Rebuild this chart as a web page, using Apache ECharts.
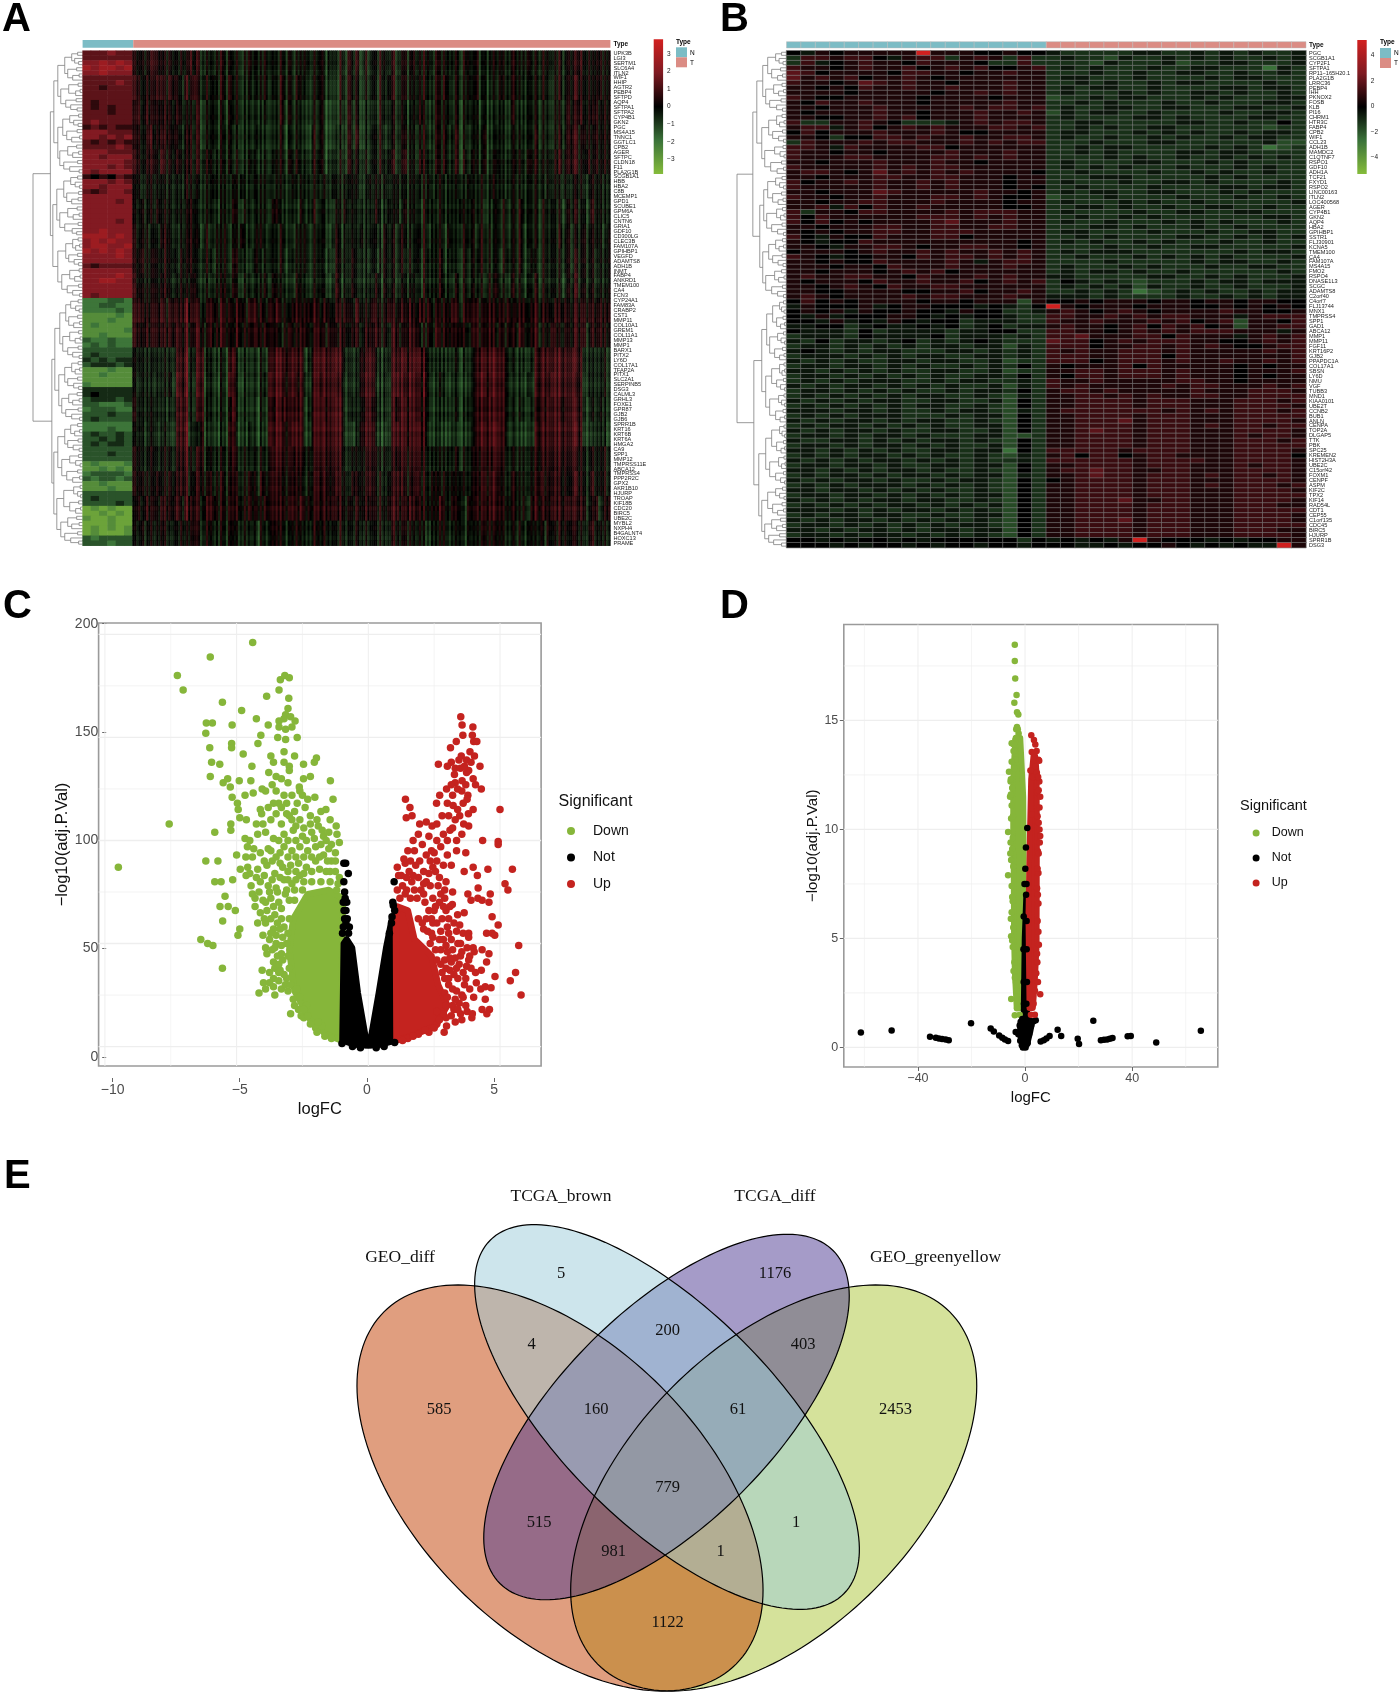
<!DOCTYPE html>
<html><head><meta charset="utf-8">
<style>html,body{margin:0;padding:0;background:#fff}#c{width:1400px;height:1693px}</style>
<script src="https://cdn.jsdelivr.net/npm/echarts@6/dist/echarts.min.js"></script></head>
<body><div id="c"></div>
<script>
// ---------- heatmap A ----------
const rowsA=['UPK3B','LGI3','SERTM1','SLC6A4','ITLN2','WIF1','HHIP','AGTR2','PEBP4','SFTPD','AQP4','SFTPA1','SFTPA2','CYP4B1','GKN2','PGC','MS4A15','TNNC1','GGTLC1','CPB2','AGER','SFTPC','CLDN18','F11','PLA2G1B','SCGB1A1','HBB','HBA2','C8B','MCEMP1','GPD1','SCUBE1','GPM6A','CLIC5','CNTN6','GRIA1','GDF10','CD300LG','CLEC3B','FAM107A','GPIHBP1','VEGFD','ADAMTS8','ADH1B','INMT','FABP4','ANKRD1','TMEM100','CA4','FCN3','CYP24A1','FAM83A','CRABP2','CST1','MMP11','COL10A1','GREM1','COL11A1','MMP13','MMP1','BARX1','PITX2','LY6D','COL17A1','TFAP2A','PITX1','SLC2A1','SERPINB5','DSG3','CALML3','GRHL3','FOXE1','GPR87','GJB2','GJB6','SPRR1B','KRT16','KRT6B','KRT6A','HMGA2','CA9','SPP1','MMP12','TMPRSS11E','ABCA12','TMPRSS4','PPP2R2C','GPX2','AKR1B10','HJURP','TROAP','KIF18B','CDC20','BIRC5','UBE2C','MYBL2','NXPH4','B4GALNT4','HOXC13','PRAME'];
const levelsA=[-3.2,-2.6,-2,-1.4,-.7,0,.7,1.4,2,2.6];
const tumorLevelsA=[-1.5,-1.2,-1,-.7,-.35,0,.4,.75,1.05,1.35];
const normalA=['777877','777777','889898','989989','889888','777777','777787','776777','777777','777777','767777','767677','777677','777777','787777','676766','888777','887878','767676','777787','888777','887888','888887','888787','878888','656576','888787','887888','767887','888888','888878','888888','888888','888888','888878','888888','889888','999898','898988','899889','989898','888898','888888','767777','888888','888898','889988','888888','888888','878888',
'222332','223322','222232','111121','111211','121111','111112','112111','322322','232322','333333','343333','434344','344434','111211','112111','111111','211111','444444','454444','344434','332223','233322','333433','343333','222222','222322','343343','334343','343443','333333','333433','333333','121112','112121','233332','323323','112111','111211','333333','343333','333343','010100','001010','100100','000100','010101','010001','323333','333233'];
const tumorBandsA=[
"6565676556 5464756454 4564645356 4546453646 3546454635 4363746363 5465463564 6456546465 4546546354 5465465456 4546545646 5675645656",
"7656567657 6546575464 5464745345 3546353746 3645354634 3263745353 5364563564 5456446475 3545546353 4365465445 4546435646 5765645656",
"6757566566 5654546354 5353645344 3435343736 3534353623 3253735343 4364453553 5465346465 3535445253 3354364345 4535435547 5675656566",
"6656756666 6545646354 5354634344 3534343625 3534263623 3343736343 5463453564 5356346474 4635345363 3454354445 4635435647 6756646566",
"7656665756 5655646465 4454635345 4435354636 4635364624 4353745453 5464563574 5366446474 4636355363 4554455546 5645546757 6755746566",
"5545545445 4445544454 5445454544 4545444544 5445454454 5445554445 4545445454 5445544545 4454544544 5454454445 4544545454 4554454545",
"5464546455 4454653454 4345464354 3545365444 4354463544 3546453544 4634545364 5436453545 4365454534 3546354645 4536454536 4645364545",
"6465354565 4354654363 4546354644 3654453644 3546354543 4635453644 5436453654 4546354536 4356453645 3546354635 4536454646 3546454536",
"6575465465 5364653464 3546365443 4635453634 4546354534 3645463543 5346453645 4536454635 4346354645 3536454634 5436454546 3646453546",
"7565465565 4464563453 4556464354 3546364544 3645354543 4735463544 4636453554 5436454645 3546354536 4645364535 4636454536 4746453546",
"7776576757 7678676567 6576757657 7665767565 6757676576 5767657665 7656765767 6576756576 7657667567 6576756675 6757657676 5767665767",
"7667576667 6767567657 5676657566 6757665467 5667567657 6576566576 6756476567 7645657576 6576467567 6475665765 6746576566 5767465766",
"5454344344 4778447844 3343783343 3343778877 8773478888 8884433778 7434477887 8877443344 3434347788 8787443343 4778878887 8774433454",
"5354334345 3878437834 3243873243 3344878867 8674378788 8773433788 7334378878 8768433443 3333347887 8787433334 3778788887 8673433454",
"6454444334 4787436844 3343683343 3243768787 7773478878 8883443678 6434376887 8767433344 3434447778 7787443443 4677878777 8774343544",
"5453443343 3788343733 3233772334 3233878867 8873378888 8883323788 7323378887 8877333233 3233347888 8887333233 3778878887 8873323443",
"6554554455 4677546745 4454674454 4454677767 6765567777 7774454667 6545466776 7766454455 4545456677 6776454454 5667767776 7665454565",
"6565456456 5676456656 4564665456 5465676656 6654567676 6765465667 6454567765 6756465465 5465456676 7665465454 5676667665 6765464565",
"5657565666 6757666577 6565766567 5657676767 7676667677 7675656676 6565677677 7666565765 6563657677 7676565463 6767677777 7676456367",
"5464545554 5464565465 4454654454 4354565645 5645465565 5464545554 5454465565 5454354564 4463545566 5565454545 5464655665 6554564555"];
const fineColumnsA="5646352748 5463758264 3574625937 4586251746 5372846153 6482537164 4751836245 5384726154 6372845163 2846357152 5473816254 6385241736 4572816354 5836274518 3645728163 5274836152 6485317264 5736284517 3864527163 4752836154 6384257163 5472831645 3685274516 5847362714";
const rowShadeA="5565465556 4556545654 5465556455 5465545565 5564553565 3555646555 4565565456 5546556455 6555465565 5465556545 7665566557 6546655456 5565465546 4556553456 5465646555 5646555465 5465556456 5546546565 6556455646 5565465546";
const typeCountsA=[57,537];
const colorTicksA=[3,2,1,0,-1,-2,-3];
// ---------- heatmap B ----------
const rowsB=['PGC','SCGB1A1','CYP2F1','SFTPA1','RP11−165H20.1','PLA2G1B','LRRC36','PEBP4','IHH','PKNOX2','FOSB','KLB','PI16','CHRM1','HTR3C','FABP4','CPB2','WIF1','CCL23','ADH1B','MAMDC2','C1QTNF7','RSPO1','GDF10','ADH1A','TCF21','FXYD1','RSPO2','LINC00163','ITLN2','LOC400568','AGER','CYP4B1','GKN2','AQP4','HBA2','GPIHBP1','SSTR1','FLJ30901','KCNA5','TMEM100','CA4','FAM107A','MS4A15','FMO2','RSPO4','DNASE1L3','SCGC','ADAMTS8','C2orf40','C4orf7','FLJ13744','MNX1','TMPRSS4','SPP1','GAD1','ABCA12','MMP1','MMP11','FGF11','KRT16P2','GJB2','PPAPDC1A','COL17A1','SBSN','LY6D','NMU','VGF','TUBB3','MND1','KIAA0101','UBE2T','CCNB2','BUB1','ANLN','CENPA','TOP2A','DLGAP5','TTK','PBK','SPC25','KREMEN2','HIST2H3A','UBE2C','C15orf42','FOXM1','CENPF','ASPM','KIF2C','TPX2','KIF14','RAD54L','CDT1','CEP55','C1orf135','CDC45','BIRC5','HJURP','SPRR1B','DSG3'];
const levelsB=[-3.6,-2.6,-1.7,-1.1,-.5,0,.6,1.2,1.9,5.2];
const matrixB=[
"546566666966655655 433333443343434334","377677546773676373 343324334343433434","374567665766653373 333243334233443334","766567667567675567 343433343344333143",
"875666657766566766 333433433443343343","867675667656666666 344333433334344333","766568767665666766 334343343443333433","665657667667666766 343443343333443443",
"666656666656676766 343334343344343343","765566666566665666 233434433343433344","657667666566666766 334343334334333443","665666766666767767 343344334433344334",
"656666766566676676 243443343333433443","665566767566676666 343333443433334433","733667653334676776 334433333443343353","677467567676667767 334343344333333233",
"575666766676556666 344333434343343443","665355776766766776 343343343433434433","376667677666767677 333433344333333422","776476666775666666 334344333334343123",
"766566566667666766 334343333443443333","766677666677676766 333343433433434343","665666766676656666 343333443334343333","766666767677666666 343434333433343433",
"677656867676766665 334333343343433433","665666776677666566 333444333334343333","756676766767666566 343334334434333343","766666766767666565 334333343333443443",
"665666876666676656 343443344333434333","766566766677676556 233343333433343343","665667766676666566 343334343343333334","667475766766666556 334434334334433433",
"736657766667677766 343333433443344333","757666666777676766 334334343333333443","757565666678666766 343343334343433343","665666776677667766 333443433343343333",
"656566776677766666 344333343334334433","754655766677566666 334343333443343434","654557666666666656 343433434333433433","665466776566776656 333343343344333334",
"566656766767667676 343444333333343443","765455665767767676 334333434343433334","665655766667646776 333343333343443343","666566576667666766 343334343334334433",
"665666567675666666 343443433433333343","676677665766676766 443333344334343334","656665766766756767 354343233343443444","665676576677666666 343434243343343334",
"665566665566756676 334343123434334344","676566667677666766 444343333433434344",
"575656666566566626 556566656656656655","465556456655545435 965666566655656565","565646556554655334 676567656666766556","546455566545455433 776676767766646777",
"554645465455344433 766766676756726657","445534544545345344 676656757675626677","544435344443445533 776656767677766646","344435444453444343 778666775766646767",
"435344345343454333 877567677766556767","344343434344344243 777566776767655677","454343443334434343 767667776766666767","344434343443344343 777667775766666667",
"434343344344334233 777567776766766767","344344343433434353 656667576666656566","443434343344334233 667767776766656667","344343434343344353 657767776766656566",
"343434443343443343 766766666776656666","434344343434334243 767666667677666767","344343434334344353 677676666676667776","343434343443343243 667767676677667777",
"434343443344334253 667777677766677767","343434343443343253 667777677766677776","444344343343443243 677777776767677767","343434443334344253 667777677766677777",
"434344343443343253 667778677766677776","343443434343344253 667777677767677677","434344343344334253 667877677766677776","344343443433344223 667777677766676776",
"433443434344343253 667777677766677767","344343443434334253 667777677766677777","443434343344344153 777776777766677776","343434434343343243 675775677666677775",
"434343443434343343 777777677776677776","344344343344344253 667777677766676776","443434344343343253 677877667766677776","343443434434344243 667877677767677676",
"434344343343443253 567777677766677776","343434443434343253 667777677767677767","443443434343343253 667777677766677776","344344343434344253 667777677766677777",
"434343443443343253 667778667766677776","343434344343434253 667777677766677766","444343434434343253 667777677766677777","343443443343344253 667777677766677776",
"434344343434343253 667778677766677776","344343434343443253 667777677766677777","443434434344344253 667777677766677766","344343443434343253 667777677766677776",
"554545545455555535 454546965554545566","555454554545545545 554454556545454496"];
const typeStringB="NNNNNNNNNNNNNNNNNNTTTTTTTTTTTTTTTTTT";
const colorTicksB=[4,2,0,-2,-4];
// ---------- dendrograms ----------
const treeA=[100,[65,[58,[50,[36,[22,[10,0,0],[16,0,[8,0,0]]],[30,[12,0,0],[20,[7,0,0],0]]],[44,[28,[9,0,0],[14,[5,0,0],0]],[34,[13,0,0],[24,0,[11,0,0]]]]],[50,[40,[26,[8,0,0],[18,0,[9,0,0]]],[32,[11,0,0],[22,[6,0,0],0]]],[46,[30,[12,0,0],[20,[8,0,0],0]],[38,[10,0,0],[26,0,[7,0,0]]]]]],[60,[52,[38,[24,[10,0,0],[15,0,[6,0,0]]],[32,[8,0,0],[22,[9,0,0],0]]],[46,[30,[11,0,0],[19,[7,0,0],0]],[36,[9,0,0],[21,0,[12,0,0]]]]],[50,[34,[20,[9,0,0],[14,[6,0,0],0]],[28,[10,0,0],[17,0,[8,0,0]]]],[42,[26,[7,0,0],[16,[5,0,0],0]],[31,[8,0,0],[20,0,[6,0,0]]]]]]],[62,[56,[46,[34,[24,[9,0,0],[14,0,[7,0,0]]],[28,[10,0,0],[18,[6,0,0],0]]],[40,[26,[8,0,0],[15,[5,0,0],0]],[30,[9,0,0],[20,0,[7,0,0]]]]],[48,[36,[22,[9,0,0],[15,[6,0,0],0]],[30,[10,0,0],[18,0,[8,0,0]]]],[42,[28,[11,0,0],[20,[7,0,0],0]],[34,[9,0,0],[22,0,[6,0,0]]]]]],[58,[50,[36,[24,[10,0,0],[16,[6,0,0],0]],[30,[9,0,0],[19,0,[7,0,0]]]],[42,[26,[8,0,0],[14,0,[5,0,0]]],[32,[10,0,0],[20,[6,0,0],0]]]],[52,[38,[18,[5,0,0],[10,0,[4,0,0]]],[26,[8,0,0],[14,[4,0,0],0]]],[44,[30,[12,0,0],[22,[7,0,0],0]],[36,[10,0,0],[24,0,[8,0,0]]]]]]]];
const treeB=[100,[68,[60,[48,[38,[22,[10,0,0],[15,0,[7,0,0]]],[30,[12,0,0],[18,[8,0,0],0]]],[42,[26,[9,0,0],[16,[6,0,0],0]],[34,[11,0,0],[20,0,[8,0,0]]]]],[50,[36,[20,[9,0,0],[14,[5,0,0],0]],[28,[8,0,0],[16,0,[6,0,0]]]],[44,[24,[7,0,0],[13,0,[5,0,0]]],[32,[10,0,0],[19,[6,0,0],0]]]]],[54,[46,[38,[22,[9,0,0],[14,0,[6,0,0]]],[28,[10,0,0],[17,[7,0,0],0]]],[40,[20,[8,0,0],[12,[5,0,0],0]],[30,[9,0,0],[18,0,[6,0,0]]]]],[48,[36,[22,[8,0,0],[15,[6,0,0],0]],[28,[9,0,0],[17,0,[7,0,0]]]],[42,[24,[10,0,0],[16,[5,0,0],0]],[30,[8,0,0],[18,0,[6,0,0]]]]]]],[66,[50,[40,[28,[14,[6,0,0],[10,0,[5,0,0]]],[20,[7,0,0],[12,[4,0,0],0]]],[34,[18,[6,0,0],[11,0,[4,0,0]]],[24,[8,0,0],[14,[5,0,0],0]]]],[42,[30,[14,[5,0,0],[9,[4,0,0],0]],[20,[6,0,0],[12,0,[4,0,0]]]],[34,[16,[5,0,0],[10,0,[4,0,0]]],[22,[7,0,0],[13,[4,0,0],0]]]]],[56,[42,[30,[14,[5,0,0],[9,0,[4,0,0]]],[20,[6,0,0],[11,[4,0,0],0]]],[34,[16,[5,0,0],[10,[3,0,0],0]],[22,[6,0,0],[12,0,[4,0,0]]]]],[50,[38,[22,[8,0,0],[14,0,[5,0,0]]],[28,[9,0,0],[18,[6,0,0],0]]],[44,[30,[12,0,0],[20,[8,0,0],0]],[36,[14,0,0],[26,0,[10,0,0]]]]]]]];
// ---------- volcano C ----------
const seriesNames=['Down','Not','Up'];
const cDownPts=[-9.49,87,-7.56,108,-7.25,180,-7.03,173,-6.36,52,-6.1,50,-5.9,49,-5.54,38,-4.39,196,-6,189,-6.15,157,-5.92,157,-6.17,152,-5.54,167,-6.02,145,-5.95,138,-5.64,137,-5.17,156,-5.19,147,-5.19,145,-4.81,163,-4.75,142,-6,131,-5.51,128,-5.34,130,-5.24,126,-4.9,129,-4.46,129,-5.17,121,-4.68,122,-4.37,123,-4.03,125,-4.42,136,-4.25,159,-4.19,147,-4.08,151,-3.8,156,-3.86,170,-3.39,173,-3.34,178,-3.17,180,-3,179,-3.02,169,-3.05,164,-3.14,161,-3.39,158,-3.2,159,-2.95,160,-2.78,158,-3.39,155,-3.14,154,-2.9,155,-3.44,150,-3.14,149,-2.7,150,-5.83,104,-6.17,90,-5.71,90,-5.83,80,-5.59,80,-5.44,73,-5.63,68,-5.32,68,-5.53,61,-5.05,66,-4.88,57,-4.95,54,-5,93,-4.86,86,-5.15,81,-4.64,83,-4.58,87,-4.97,118,-4.94,115,-4.88,111,-4.63,110,-5.22,108,-5.22,105,-4.68,101,-4.59,97,-3.7,141,-3.6,138,-3.2,143,-3.2,138,-3,136,-2.8,141,-2.46,137,-2.05,138,-1.97,140,-3.78,133,-3.5,131,-3,134,-2.62,126,-2.46,130,-2.2,131,-1.44,129,-3.9,124,-3.5,124,-3.2,122,-2.9,122,-2.7,118,-2.5,122,-1.34,120,-2.03,121,-3.4,118,-3.1,118,-2.4,116,-2.8,114,-1.61,115,-4,108,-3.7,110,-3.5,113,-3.3,108,-3,112,-2.6,110,-2.2,112,-1.9,107,-4.2,103,-3.9,104,-3.6,101,-3.2,103,-2.85,105,-2.5,102,-2.15,104,-1.7,102,-1.22,107,-1.19,103,-1.1,99,-1.4,98,-1.6,100,-4.4,92,-4.1,94,-3.8,96,-3.5,92,-3.2,97,-2.9,95,-2.6,97,-2.3,95,-2,97,-1.7,93,-1.4,90,-4.2,86,-3.85,88,-3.55,84,-3.25,87,-2.95,88,-2.65,89,-2.35,87,-2,90,-1.6,85,-1.25,85,-4.45,78,-4.1,80,-3.8,78,-3.5,77,-3.2,81,-2.9,79,-2.6,83,-1.15,79,-4.3,72,-4,71,-3.7,72,-3.4,70,-3.15,74,-4.1,65,-3.85,66,-3.55,64,-3.3,62,-4.2,60,-3.9,60,-3.6,57,-3.35,57,-4,54,-3.75,52,-3.5,50,-3.3,49,-3.65,47,-3.45,44,-3.25,42,-3.85,45,-3.98,31,-4.03,37,-3.75,36,-3.55,38,-3.35,37,-4.15,26,-3.9,28,-3.75,31,-3.6,29,-3.55,25,-3.4,32,-3.3,28,-3.05,27,-3.1,33,-2.95,16,-2.65,18,-2.55,15,-2.35,20,-2,9,-1.75,10,-2.85,23,-2.45,14,
-3.4,100,-3.05,100,-2.75,100,-2.35,100,-2.05,101,-1.8,98,-1.5,96,-1.25,94,-3.7,95,-3.35,94,-3.05,92,-2.75,92,-2.45,92,-2.15,92,-1.85,92,-1.55,90,-1.25,90,-3.95,90,-3.65,90,-3.35,89,-3.05,85,-2.75,85,-2.45,84,-2.15,85,-1.85,86,-1.45,85,-1.1,82,-3.95,83,-3.65,81,-3.35,82,-3.05,81,-2.75,81,-2.45,80,-2.15,80,-1.8,80,-1.45,80,-1.2,76,-4.25,82,-3.75,75,-3.45,75,-3.1,76,-2.8,76,-2.5,76,-4.15,75,-3.9,70,-3.6,68,-3.3,67,-3,71,-2.8,71,-4.3,68,-3.95,62,-3.7,62,-3.45,60,-3.2,58,-3,62,-3.5,54,-3.25,53,-3.05,55,-3.7,55,-3.9,48,-3.55,48,-3.3,45,-3.6,41,-3.4,40,-3.2,35,-3.6,33,-3.4,36,-3.15,30,-2.95,30,-2.9,34,-3,38,-2.8,20,-2.6,24,-2.45,18,-2.3,15,-2.2,11,-1.95,7,-1.65,5,-1.4,4,-1.9,12,-2.7,28,-3.05,44,-3.1,50,
-4.1,115,-3.8,116,-3.6,118,-3.3,116,-3.1,113,-2.9,110,-2.75,107,-2.45,106,-2.2,108,-1.95,110,-1.75,105,-1.5,104,-1.45,110,-1.8,114,-2.3,120,-2.6,124,-3.05,128,-3.3,130,-3.65,127,-4.05,113,-4.25,108,-4.5,100,-4.35,96,-4.65,92,-4.5,84,-4.4,74];
const cDownDense=[-1.02,3,-0.97,72,-1.5,76,-2.3,74,-2.85,62,-3,47,-2.8,27,-2.2,13,-1.61,6];
const cNotPts=[-0.93,89,-0.86,89,-0.76,84,-0.93,80,-0.9,75,-0.88,72,-0.82,70,-0.92,66,-0.85,60,-0.72,58,0.98,80,0.95,68.5,0.9,63,-0.95,58,-0.9,62,-0.8,62,-0.75,55,-0.95,70,-0.85,66,-0.98,55,0.93,70,1,66,0.88,60,0.8,55,-1,1.5,-0.6,0,-0.3,-.5,0.3,-.5,0.6,0,1,2,-0.1,1,0.1,1];
const cNotDense=[-0.98,3,-0.93,50,-0.82,52,-0.62,48,-0.4,26,-0.1,4,0,2,0.1,4,0.4,26,0.68,48,0.9,62,1,60,1.02,3,0.45,1,0,0.5,-0.5,1];
const cUpPts=[3.51,160,3.56,156,3.97,155,3.59,151,3.95,151,4,148,4.12,148,3.34,148,3.12,145,3.53,141,3.86,143,4.03,141,3.44,139,3.73,139,2.66,137,3.15,138,3,136,3.3,135,4.24,136,3.81,134,3.73,133,3.27,132,3.56,129,3.98,130,4.07,127,3.3,128,2.97,125,3.39,125,4.29,125,3.78,122,2.71,122,2.59,118,3,118,3.22,117,3.39,115,3.98,115,1.41,120,1.58,116,1.44,111,1.66,112,1.95,108,2.2,109,2.42,107,5,115,3.81,107,3.47,112,3.62,108,3.1,105,2.85,103,2.6,100,2.3,102,1.9,103,1.7,100,1.75,95,2.05,98,2.4,95,2.75,97,3,93,4.34,100,4.93,99.5,4.93,98,3.7,94,5.47,86,4.54,86,3.98,87,3.64,85,4.14,83,5.19,79,5.3,76,4.17,77,3.78,74,4.63,74,4.16,72,4.32,71,4.58,70,3.9,71,3.19,69,4.7,63,3.64,65,3.39,64,4.93,59,3.47,59,4.49,55,4.7,55,4.8,54,3.81,55,3.81,53,5.71,49,3.98,48,4.02,46,4.32,47,4.58,45,4.49,41,3.81,42,3.73,39,4.29,37,4.07,36,5.59,36,4.81,34,5.39,32,5.8,25,4.27,28,4.44,29,4.66,28.5,4.44,23,4.32,18,4.6,18,4.5,16,3.93,14,2.88,7,3.3,12,2.97,10,1.4,89,1.1,87,1.15,83,1.45,82,1.8,88,2.1,85,2.35,90,2.55,85,2.2,80,1.65,80,2.65,78,2,76,1.45,76,2.45,72,2.9,72,2.95,66,2.5,66,2.15,70,2.2,62,2.6,60,3,58,2.4,55,2.85,52,3.15,52,3.4,50,3.2,47,3.5,44,3.15,41,3.35,38,3.6,36,3.4,33,3.65,30,3.35,27,3.55,25,3.45,21,3.7,20,3.25,18,3.5,16,2.6,11,2.3,7,1.9,6,1.5,4,
1.2,72,1.4,74,1.3,78,1.6,72,1.85,72,2.1,74,1.75,76,1.1,76,1.25,83,1.55,85,1.9,82,2.3,84,2.6,90,2.85,88,3.15,88,3.35,95,2.5,94,2.2,93,1.95,90,2.7,82,2.95,80,3.2,75,2.7,70,3.1,68,2.3,66,1.9,62,2.45,60,2.1,57,2.75,56,3.05,55,3.25,60,3.6,55,3.5,50,3.75,48,3.3,43,3.45,40,3,46,2.9,42,3.1,37,3.7,33,3.85,28,3.6,24,3.05,30,3.3,23,3.75,17,3.55,13,3.15,15,2.95,14,2.7,13,2.5,9,2.15,8,1.7,5,1.3,3,2.9,26,2.95,20,2.8,36,2.6,42,2.35,50,2.05,60,2.75,47,3.9,38,4.1,31,4,24,3.95,16,1.5,95,1.35,91,1.6,90,3,100,3.2,106,3.35,100,3.55,103,3.3,110,3.05,112,2.8,112,2.6,108,3.6,118,3.8,113,3.75,120,3.55,124,3.7,127,3.2,122,3.15,127,3.5,135,3.65,136,3.9,138,
2.9,33,2.75,40,2.55,47,2.25,56,2.45,53,2.7,52,2.95,49,3.1,43,2.95,38,3.25,35,3.05,33,3.2,28,3,24,3.2,20,3.4,18,2.85,16,2.6,17,2.4,62,2.8,62,3.35,56,3.55,46,3.85,44,2.55,68,2.85,68,3.05,62,2.75,74,2.35,78,2.9,76,1.7,83,2.1,79,2.45,87];
const cUpDense=[1.07,3,1.05,60,1.1,68,1.5,66,1.75,52,2.4,44,2.65,30,3,20,2.55,10,1.61,5];
const cGridX=[-10,-7.5,-5,-2.5,0,2.5,5];
const cGridY=[0,25,50,75,100,125,150,175,200];
const cTickX=[-10,-5,0,5];
const cTickY=[0,50,100,150,200];
// ---------- volcano D ----------
const dDownPts=[-3.83,18.47,-3.83,17.73,-3.67,16.92,-3.17,16.17,-4,15.81,-3,15.38,-2.5,15.27,-3,14.7,-2.4,14.4,-3.6,14.1,-5,13.95,-4.3,13.6,-3.5,13.2,-5,13.1,-6,12.65,-5.4,12.2,-4.8,11.9,-5.6,11.5,-5,11.1,-5.2,10.5,-6.33,9.88,-5.4,9.4,-4.8,9.1,-5.2,8.6,-6.33,7.9,-5,7.4,-4.6,6.7,-5,6.2,-5.3,5.9,-5.2,5.1,-4.6,4.6,-4,3.9,-4.3,3.5,-3.4,3,-5.17,2.22,-3.83,1.47,-3.2,2.6,-3.3,14.6,-2.7,14.6,-3.2,14.2,-4.2,13.9,-3.9,12.8,-5.3,12.3,-5.3,11.6,-4.5,10.6,-4.6,9.6,-5.5,8.9,-4.4,8.3,-4.8,6.9,-4.4,5.5,-4.8,4.9,-3.8,3.2,-3,1.8,-2,1.5];
const dDownDense=[-3.6,14.2,-1.7,14.2,-0.6,11.5,-0.4,8.3,-1.2,1.8,-3.2,1.8,-3.9,3.5,-4.2,5.1,-4.3,8,-4.5,9.9,-4.5,11.5,-4.4,12.7];
const dNotPts=[-61.33,.68,-49.83,.78,-35.5,.49,-33.33,.44,-32.17,.41,-31,.38,-29.67,.36,-28.5,.33,-20.17,1.11,-12.83,.87,-11.67,.73,-9.67,.55,-8.5,.44,-7.5,.36,-6.33,.29,-3.5,.71,5.83,.27,7,.33,8,.41,9.17,.52,12.17,.81,13.5,.52,19.67,.4,20.17,.16,25.5,1.22,28.33,.33,29.5,.35,30.67,.36,31.67,.4,32.67,.43,38.33,.51,39.5,.52,49,.22,65.67,.76,.83,10.07,.33,9.17,-1,1.3,-2,1,-2.5,.6,-1.8,.3,-1.2,.1,-.8,0,.2,0,1,.2,1.5,.6,2.3,1,3.2,1.2,4,1.25,-.4,2,.5,2,-.5,3,.7,3,-.6,4.5,.6,4.5,-.5,6,.6,5.8,.4,7,.55,7.5,-.2,7.5,.1,8.2];
const dNotDense=[-1.8,1.2,-.6,1.3,-.2,5,.4,7,.6,5,.9,1.3,2.8,1.2,2,.7,.8,.1,-1,.1,-2,.6];
const dUpPts=[2.33,14.32,3.33,14.1,3.83,13.9,4.33,13.6,2.5,13.55,5,13.2,5.3,13.15,4,12.9,2,12.7,3,12.4,5.33,12.2,4.6,11.7,5.67,11.5,5.4,11,2.5,10.7,5.4,10,5.67,9.7,5.5,9.4,4.8,9,5,8,4.5,7.3,5,6.6,4.7,5.8,5.17,4.71,4.6,3.9,4.83,3,5.67,2.44,3.67,1.5,2.2,1.5,3.4,13.5,4.4,12.6,4.9,12.4,5.1,11.8,4.7,10.6,5.1,10.3,5.1,8.9,4.7,8.2,4.8,7,5,5.3,4.5,4.3,4.2,3.4,3.7,2.6,3.2,2];
const dUpDense=[3.1,13.4,3.8,13.4,4.4,12.6,4.5,9.9,4.4,4.7,3.7,3,3,1.8,1.6,1.8,1.2,6,1.7,9.5,2.2,12.3];
const dGridX=[-60,-40,-20,0,20,40,60];
const dGridY=[0,2.5,5,7.5,10,12.5,15,17.5];
const dTickX=[-40,0,40];
const dTickY=[0,5,10,15];
// ---------- venn ----------
const vennSets=['GEO_diff','TCGA_brown','TCGA_diff','GEO_greenyellow'];
const vennCounts=[5,1176,4,200,403,585,160,61,2453,779,515,1,981,1,1122];

// ========== layout & styles ==========
const SANS='"Liberation Sans",Arial,sans-serif', SERIF='"Liberation Serif","Times New Roman",serif';
const RED='#C4231F',GREEN='#86B63A',COL_N='#7CBCC5',COL_T='#DB8C84';
const grids=[],xAxes=[],yAxes=[],series=[],visualMaps=[],legends=[],graphics=[];
const addG=g=>{grids.push(g);return grids.length-1};
const addX=a=>{xAxes.push(a);return xAxes.length-1};
const addY=a=>{yAxes.push(a);return yAxes.length-1};
const pairs=a=>{const o=[];for(let i=0;i<a.length;i+=2)o.push([a[i],a[i+1]]);return o};
const hidden=(g,min,max,extra)=>Object.assign({type:'value',gridIndex:g,min,max,show:false,splitLine:{show:false}},extra||{});
const txt=(text,x,y,font,extra)=>graphics.push({type:'text',left:x,top:y,silent:true,style:Object.assign({text,font,fill:'#000'},extra||{})});
const digits=s=>s.replace(/ /g,'').split('').map(Number);

function dendrogram(tree,rect){
  const g=addG(rect),segs=[];let leaf=0;
  (function walk(n){if(n===0)return{y:leaf++ +.5,h:0};const L=walk(n[1]),R=walk(n[2]),h=n[0];
    segs.push([L.h,L.y,h,L.y],[R.h,R.y,h,R.y],[h,L.y,h,R.y]);return{y:(L.y+R.y)/2,h}})(tree);
  const xi=addX(hidden(g,0,100,{inverse:true})),yi=addY(hidden(g,0,leaf,{inverse:true}));
  series.push({type:'custom',xAxisIndex:xi,yAxisIndex:yi,silent:true,data:segs,encode:{x:[0,2],y:[1,3]},
    renderItem(p,api){const a=api.coord([api.value(0),api.value(1)]),b=api.coord([api.value(2),api.value(3)]);
      return{type:'line',shape:{x1:a[0],y1:a[1],x2:b[0],y2:b[1]},style:{stroke:'#808080',lineWidth:.8}}}});
}
function annotation(spans,total,rect,stroke){
  const g=addG(rect);
  const xi=addX(hidden(g,0,total));
  const yi=addY({type:'category',gridIndex:g,data:['Type'],position:'right',axisLine:{show:false},axisTick:{show:false},
    axisLabel:{fontFamily:SANS,fontSize:6.5,fontWeight:'bold',color:'#111',margin:3}});
  series.push({type:'custom',xAxisIndex:xi,yAxisIndex:yi,silent:true,data:spans,encode:{x:[0,1]},
    renderItem(p,api){const a=api.coord([api.value(0),0]),b=api.coord([api.value(1),0]),h=api.size([0,1])[1];
      return{type:'rect',shape:{x:a[0],y:a[1]-h/2,width:b[0]-a[0],height:h},style:{fill:api.value(2)?COL_T:COL_N,stroke:stroke||null,lineWidth:.5}}}});
}
function heat(cols,rows,data,rect,vmIdx,labels,border){
  const g=addG(rect);
  const xi=addX({type:'category',gridIndex:g,data:cols,show:false});
  const yi=addY({type:'category',gridIndex:g,data:rows,inverse:true,position:'right',show:!!labels,axisLine:{show:false},axisTick:{show:false},
    axisLabel:{interval:0,fontFamily:SANS,fontSize:5.6,color:'#222',margin:3,hideOverlap:false}});
  series.push({type:'heatmap',xAxisIndex:xi,yAxisIndex:yi,data,progressive:0,silent:true,emphasis:{disabled:true},
    itemStyle:border?{borderColor:border,borderWidth:.6}:{}});
  visualMaps[vmIdx].seriesIndex.push(series.length-1);
}
function colorbar(rect,min,max,ticks,stops){
  const g=addG(rect);
  const xi=addX(hidden(g,0,1));
  const yi=addY({type:'value',gridIndex:g,min,max,position:'right',splitLine:{show:false},axisLine:{show:false,onZero:false},axisTick:{show:false},
    axisLabel:{customValues:ticks,formatter:v=>String(v).replace('-','−'),fontFamily:SANS,fontSize:6.5,color:'#222',margin:4}});
  series.push({type:'custom',xAxisIndex:xi,yAxisIndex:yi,silent:true,data:[[0,min,1,max]],encode:{x:[0,2],y:[1,3]},
    renderItem(p,api){const a=api.coord([0,max]),b=api.coord([1,min]);
      return{type:'rect',shape:{x:a[0],y:a[1],width:b[0]-a[0],height:b[1]-a[1]},
        style:{fill:new echarts.graphic.LinearGradient(0,0,0,1,stops.map((color,i)=>({offset:i/(stops.length-1),color})))}}}});
}
function typeLegend(x,y){
  txt('Type',x,y-9,'bold 6.5px '+SANS);
  graphics.push({type:'rect',left:x,top:y,shape:{width:11,height:10},style:{fill:COL_N}},{type:'rect',left:x,top:y+10,shape:{width:11,height:10},style:{fill:COL_T}});
  txt('N',x+14,y+2,'6.5px '+SANS);txt('T',x+14,y+12,'6.5px '+SANS);
}
const RAMP=['#85BC3B','#3A7239','#000','#7E1A22','#D2201F'];
const STOPS=RAMP.slice().reverse();
visualMaps.push({show:false,type:'continuous',dimension:2,min:-3.84,max:3.84,seriesIndex:[],inRange:{color:RAMP}});
visualMaps.push({show:false,type:'continuous',dimension:2,min:-5.25,max:5.25,seriesIndex:[],inRange:{color:RAMP}});

// ---- A
dendrogram(treeA,{left:33,top:50.7,width:49.6,height:495});
annotation([[0,typeCountsA[0],0],[typeCountsA[0],typeCountsA[0]+typeCountsA[1],1]],typeCountsA[0]+typeCountsA[1],{left:82.6,top:40,width:527.8,height:7.7});
{const nA=[],tA=[],fine=digits(fineColumnsA),shade=digits(rowShadeA);
 normalA.forEach((s,r)=>digits(s).forEach((d,c)=>nA.push([c,r,levelsA[d]])));
 rowsA.forEach((_,r)=>{const band=digits(tumorBandsA[Math.floor(r/5)]);
   fine.forEach((f,c)=>tA.push([c,r,tumorLevelsA[band[c>>1]]+(f-5)*.2+(shade[r]-5)*.15]))});
 heat([0,1,2,3,4,5],rowsA,nA,{left:82.6,top:50.7,width:50,height:495},0,false);
 heat(fine.map((_,i)=>i),rowsA,tA,{left:132.6,top:50.7,width:477.8,height:495},0,true);}
colorbar({left:653.7,top:39.3,width:9.4,height:134.7},-3.84,3.84,colorTicksA,STOPS);
typeLegend(676,47.3);
// ---- B
dendrogram(treeB,{left:737,top:50.7,width:49.5,height:497});
annotation(typeStringB.split('').map((t,i)=>[i,i+1,t==='T'?1:0]),36,{left:786.5,top:41.7,width:519.5,height:6.3},'#bbb');
{const b=[];matrixB.forEach((s,r)=>digits(s).forEach((d,c)=>b.push([c,r,levelsB[d]])));
 heat(Array.from({length:36},(_,i)=>i),rowsB,b,{left:786.5,top:50.7,width:519.5,height:497},1,true,'#808080');}
colorbar({left:1357.3,top:40,width:9.4,height:134},-5.3,5.2,colorTicksB,STOPS);
typeLegend(1380,48);

// ---- volcano panels
function volcano(o){
  const g=addG(Object.assign({show:true,borderColor:'#9a9a9a',borderWidth:1.6,backgroundColor:'#fff'},o.rect));
  const xi=addX(hidden(g,o.xr[0],o.xr[1])),yi=addY(hidden(g,o.yr[0],o.yr[1]));
  const tickStyle={show:true,length:4,lineStyle:{color:'#666',width:1}};
  const lab={fontFamily:SANS,fontSize:o.tickFont,color:'#4d4d4d',formatter:v=>String(v).replace('-','−')};
  addX({type:'value',gridIndex:g,min:o.xt[0],max:o.xt[1],position:'bottom',offset:o.xOff,splitLine:{show:false},axisLine:{show:false,onZero:false},
    axisTick:Object.assign({customValues:o.tickX},tickStyle),axisLabel:Object.assign({customValues:o.tickX,margin:o.xMargin},lab),
    name:'logFC',nameLocation:'middle',nameGap:o.xGap,nameTextStyle:{fontFamily:SANS,fontSize:o.titleFont,color:'#111'}});
  addY({type:'value',gridIndex:g,min:o.yt[0],max:o.yt[1],position:'left',offset:o.yOff,splitLine:{show:false},axisLine:{show:false,onZero:false},
    axisTick:Object.assign({customValues:o.tickY},tickStyle),axisLabel:Object.assign({customValues:o.tickY,margin:o.yMargin},lab),
    name:'−log10(adj.P.Val)',nameLocation:'middle',nameGap:o.yGap,nameTextStyle:{fontFamily:SANS,fontSize:o.titleFont,color:'#111'}});
  const gl=o.gridX.map(v=>[v,0]).concat(o.gridY.map(v=>[v,1]));
  series.push({type:'custom',xAxisIndex:xi,yAxisIndex:yi,silent:true,z:1,data:gl,clip:false,
    renderItem(p,api){const v=api.value(0),d=api.value(1),c=p.coordSys;
      if(!d){const q=api.coord([v,o.yr[0]]);return{type:'line',shape:{x1:q[0],y1:c.y,x2:q[0],y2:c.y+c.height},style:{stroke:'#eee',lineWidth:(o.gridX.indexOf(v)%2===o.majorXMod)?1:.6}}}
      const q=api.coord([o.xr[0],v]);return{type:'line',shape:{x1:c.x,y1:q[1],x2:c.x+c.width,y2:q[1]},style:{stroke:'#eee',lineWidth:(o.gridY.indexOf(v)%2===0)?1.4:.7}}}});
  [[o.dense[0],GREEN],[o.dense[1],'#000'],[o.dense[2],RED]].forEach(([poly,col])=>{
    series.push({type:'custom',xAxisIndex:xi,yAxisIndex:yi,silent:true,z:2,data:[[poly[0],poly[1]]],
      renderItem(p,api){return{type:'polygon',shape:{points:pairs(poly).map(q=>api.coord(q))},style:{fill:col,stroke:col,lineWidth:o.size-1,lineJoin:'round'}}}});
  });
  [GREEN,'#000',RED].forEach((col,i)=>{
    series.push({type:'scatter',name:seriesNames[i],xAxisIndex:xi,yAxisIndex:yi,z:3,data:pairs(o.pts[i]),symbolSize:o.size,itemStyle:{color:col,opacity:1}});
  });
  legends.push({data:seriesNames.map(name=>({name,icon:'circle'})),orient:'vertical',left:o.legLeft,top:o.legTop,itemWidth:o.legW,itemHeight:o.legH,itemGap:o.legGap,selectedMode:false,
    textStyle:{fontFamily:SANS,fontSize:o.legFont,color:'#111'}});
  txt('Significant',o.sigX,o.sigY,o.sigFont+'px '+SANS,{fill:'#111'});
}
volcano({rect:{left:98.6,top:623,width:442.5,height:443},xr:[-10.24,6.56],yr:[-9.4,205.5],xt:[-10.55,6.85],yt:[-4.2,200.3],
  tickX:cTickX,tickY:cTickY,gridX:cGridX,gridY:cGridY,majorXMod:0,xOff:12,yOff:-7.6,xMargin:5,yMargin:8,xGap:23,yGap:35,tickFont:14,titleFont:16.5,size:7.5,
  dense:[cDownDense,cNotDense,cUpDense],pts:[cDownPts,cNotPts,cUpPts],legLeft:562,legTop:819,legW:34,legH:8,legGap:12.5,legFont:14,sigX:558.5,sigY:794,sigFont:16});
volcano({rect:{left:843.8,top:624.5,width:374,height:442.5},xr:[-67.7,72],yr:[-.9,19.4],xt:[-67.7,72],yt:[-.9,19.4],
  tickX:dTickX,tickY:dTickY,gridX:dGridX,gridY:dGridY,majorXMod:1,xOff:0,yOff:0,xMargin:5,yMargin:5.5,xGap:23,yGap:23,tickFont:12.5,titleFont:15,size:6.5,
  dense:[dDownDense,dNotDense,dUpDense],pts:[dDownPts,dNotPts,dUpPts],legLeft:1247.6,legTop:821.5,legW:21.4,legH:7,legGap:12,legFont:12.5,sigX:1240,sigY:798,sigFont:14.5});

// ---- venn
const vennShapes=[ // draw order: green, orange, purple, blue
 {cx:773.7,cy:1488,a:249,b:143,deg:-45,fill:'#ABC537'},
 {cx:560,cy:1488,a:249,b:143,deg:45,fill:'#C13D00'},
 {cx:666.5,cy:1417,a:235.5,b:106.5,deg:-45,fill:'#4B3791'},
 {cx:667,cy:1417,a:250,b:107.3,deg:45,fill:'#9BCBD9'}];
const vennCountPos=[[561,1274],[775,1274],[531.5,1345],[667.6,1331],[803,1345],[439,1410],[596,1410],[738,1410],[895.5,1410],[667.6,1487.6],[539,1523],[796,1523],[613.6,1552],[720.6,1552],[667.6,1622.6]];
const vennSetPos=[[400,1257.5],[561,1196],[775,1196],[935.5,1257.5]];
{const g=addG({left:320,top:1180,width:700,height:513});
 const xi=addX(hidden(g,320,1020)),yi=addY(hidden(g,1180,1693,{inverse:true}));
 const ring=(s,api)=>{const t=s.deg*Math.PI/180,pts=[];for(let k=0;k<180;k++){const u=k/180*2*Math.PI,ca=s.a*Math.cos(u),sb=s.b*Math.sin(u);
   pts.push(api.coord([s.cx+ca*Math.cos(t)-sb*Math.sin(t),s.cy+ca*Math.sin(t)+sb*Math.cos(t)]))}return pts};
 series.push({type:'custom',xAxisIndex:xi,yAxisIndex:yi,silent:true,clip:false,data:vennShapes.map((s,i)=>[i]),encode:{x:0,y:0},
   renderItem(p,api){return{type:'polygon',shape:{points:ring(vennShapes[p.dataIndex],api)},style:{fill:vennShapes[p.dataIndex].fill,opacity:.5}}}});
 series.push({type:'custom',xAxisIndex:xi,yAxisIndex:yi,silent:true,clip:false,data:vennShapes.map((s,i)=>[i]),encode:{x:0,y:0},
   renderItem(p,api){return{type:'polygon',shape:{points:ring(vennShapes[p.dataIndex],api)},style:{fill:'none',stroke:'#000',lineWidth:1.2}}}});
 const texts=vennCounts.map((v,i)=>[vennCountPos[i][0],vennCountPos[i][1],String(v),16.5]).concat(vennSets.map((v,i)=>[vennSetPos[i][0],vennSetPos[i][1],v,17.5]));
 series.push({type:'custom',xAxisIndex:xi,yAxisIndex:yi,silent:true,clip:false,data:texts.map(t=>[t[0],t[1]]),
   renderItem(p,api){const t=texts[p.dataIndex],q=api.coord([t[0],t[1]]);
     return{type:'text',style:{text:t[2],x:q[0],y:q[1],textAlign:'center',textVerticalAlign:'middle',font:t[3]+'px '+SERIF,fill:'#111'}}}});
}
// ---- panel letters
[['A',2,0],['B',720,0],['C',3,587],['D',720,587],['E',4,1157]].forEach(l=>txt(l[0],l[1],l[2],'bold 40px '+SANS));

const chart=echarts.init(document.getElementById('c'),null,{renderer:'canvas'});
chart.setOption({animation:false,backgroundColor:'#fff',grid:grids,xAxis:xAxes,yAxis:yAxes,visualMap:visualMaps,legend:legends,series,graphic:{elements:graphics},tooltip:{show:false}});
</script></body></html>
